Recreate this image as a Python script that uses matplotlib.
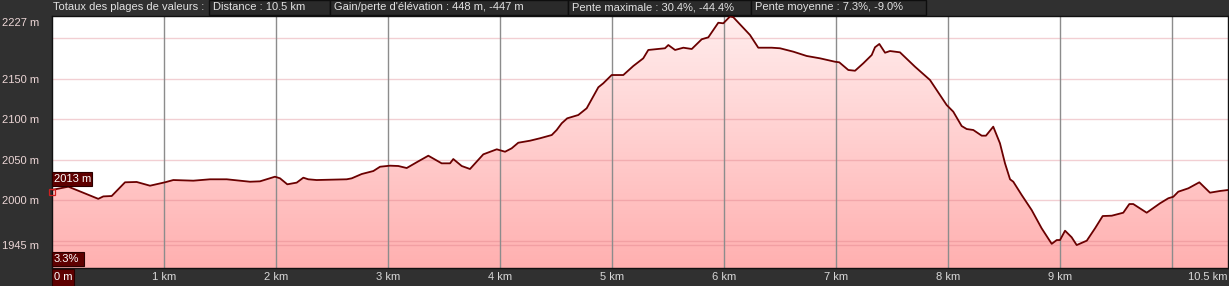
import matplotlib
matplotlib.use("Agg")
import matplotlib.pyplot as plt
import numpy as np
from matplotlib.patches import Rectangle, Polygon
from matplotlib.colors import LinearSegmentedColormap
import matplotlib.transforms as mtransforms

# ---------------- data ----------------
distance_km = [0.000, 0.146, 0.413, 0.458, 0.533, 0.652, 0.756, 0.875, 1.009, 1.083,
               1.262, 1.411, 1.560, 1.768, 1.857, 1.991, 2.036, 2.101, 2.185, 2.244,
               2.288, 2.363, 2.631, 2.676, 2.765, 2.869, 2.929, 3.018, 3.092, 3.167,
               3.256, 3.360, 3.479, 3.554, 3.583, 3.658, 3.732, 3.851, 3.971, 4.045,
               4.104, 4.163, 4.268, 4.357, 4.462, 4.506, 4.551, 4.600, 4.699, 4.774,
               4.878, 4.922, 4.997, 5.101, 5.190, 5.279, 5.324, 5.473, 5.503, 5.563,
               5.637, 5.712, 5.801, 5.860, 5.949, 5.994, 6.054, 6.083, 6.232, 6.306,
               6.426, 6.500, 6.619, 6.738, 6.857, 6.991, 7.029, 7.110, 7.170, 7.244,
               7.319, 7.348, 7.387, 7.438, 7.482, 7.571, 7.705, 7.839, 7.988, 8.047,
               8.122, 8.167, 8.226, 8.301, 8.339, 8.404, 8.464, 8.509, 8.554, 8.583,
               8.658, 8.747, 8.836, 8.926, 8.971, 9.000, 9.045, 9.104, 9.149, 9.239,
               9.313, 9.381, 9.462, 9.565, 9.619, 9.654, 9.774, 9.893, 9.967, 10.012,
               10.056, 10.146, 10.244, 10.339, 10.429, 10.500]
elevation_m = [2013, 2017, 2002, 2005, 2005.5, 2022.4, 2022.8, 2018.2, 2022.4, 2025.2,
               2024.4, 2026.1, 2026.1, 2023.1, 2023.6, 2029.3, 2027.3, 2019.9, 2022.0, 2028.1,
               2026.1, 2025.2, 2026.1, 2027.3, 2032.6, 2036.3, 2041.6, 2042.9, 2042.5, 2040.0,
               2047.1, 2055.2, 2045.8, 2045.8, 2051.1, 2042.5, 2038.8, 2056.9, 2063.1, 2060.1,
               2064.3, 2071.2, 2073.7, 2076.7, 2080.7, 2086.9, 2095.2, 2101.3, 2105.4, 2113.7,
               2139.6, 2144.5, 2154.7, 2154.7, 2165.8, 2175.3, 2185.6, 2187.7, 2191.7, 2185.6,
               2188.4, 2186.8, 2198.8, 2201.2, 2219.2, 2218.5, 2227.0, 2226.0, 2204.1, 2188.4,
               2188.4, 2187.7, 2183.5, 2178.2, 2175.3, 2171.1, 2170.4, 2160.9, 2160.0, 2169.2,
               2179.4, 2188.9, 2193.0, 2182.2, 2184.3, 2182.7, 2165.0, 2148.6, 2117.7, 2109.5,
               2091.8, 2088.1, 2086.9, 2079.9, 2079.9, 2091.0, 2070.5, 2045.8, 2026.1, 2023.1,
               2006.7, 1988.2, 1965.7, 1946.5, 1951.2, 1951.2, 1962.7, 1954.6, 1945.0, 1950.4,
               1965.7, 1980.8, 1981.2, 1984.9, 1995.6, 1995.6, 1984.9, 1996.5, 2002.7, 2004.6,
               2010.8, 2015.0, 2022.4, 2009.6, 2011.7, 2012.9]

y_tick_values = [2150, 2100, 2050, 2000, 1945]
y_grid_values = [2200, 2150, 2100, 2050, 2000, 1950, 1945]
x_tick_km = [1, 2, 3, 4, 5, 6, 7, 8, 9]
x_grid_km = [1, 2, 3, 4, 5, 6, 7, 8, 9, 10]
total_km = 10.5
max_elev = 2227
axis_floor = 1916.7
start_slope = "3.3%"

header_title = "Totaux des plages de valeurs :"
header_items = ["Distance : 10.5 km",
                "Gain/perte d'élévation : 448 m, -447 m",
                "Pente maximale : 30.4%, -44.4%",
                "Pente moyenne : 7.3%, -9.0%"]

# ---------------- style ----------------
W, H = 1229, 286
BG = "#303030"
FS = 8.0
plt.rcParams["font.family"] = ["Liberation Sans", "DejaVu Sans"]

fig = plt.figure(figsize=(W / 100, H / 100), dpi=100, facecolor=BG)

def fx(px):
    return px / W

def fy(py):
    return 1 - py / H

ax = fig.add_axes([fx(52), fy(268), fx(1228) - fx(52), fy(16) - fy(268)])
ax.set_facecolor("white")
ax.set_xlim(0, total_km)
ax.set_ylim(axis_floor, max_elev + 0.5)

x = np.array(distance_km)
y = np.array(elevation_m)

# gradient fill under the profile
cmap = LinearSegmentedColormap.from_list("pk", ["#ffb0b0", "#ffeded"])
grad = np.linspace(0, 1, 256).reshape(-1, 1)
im = ax.imshow(grad, cmap=cmap, origin="lower", aspect="auto",
               extent=[0, total_km, axis_floor, max_elev + 0.5], zorder=1,
               interpolation="bilinear")
verts = [(x[0], axis_floor)] + list(zip(x, y)) + [(x[-1], axis_floor)]
poly = Polygon(verts, closed=True, facecolor="none", edgecolor="none")
ax.add_patch(poly)
im.set_clip_path(poly)

# grid
for gv in y_grid_values:
    ax.axhline(gv, color=(0.86, 0.47, 0.51, 0.35), lw=1.0, zorder=2)
for gx in x_grid_km:
    ax.axvline(gx, color="#8c8c8c", lw=1.0, zorder=2)

# profile line
ax.plot(x, y, color="#6a0000", lw=1.3, zorder=4, solid_joinstyle="round")
ax.plot([x[0]], [y[0] - 2], marker="s", ms=5, mfc="none", mec="#d02020",
        mew=0.9, zorder=5, clip_on=False)

for s in ax.spines.values():
    s.set_color("#111111")
    s.set_linewidth(1.0)

ax.set_yticks(y_tick_values)
ax.set_yticklabels([f"{v} m" for v in y_tick_values])
ax.set_xticks(x_tick_km)
ax.set_xticklabels([f"{v} km" for v in x_tick_km])
ax.tick_params(axis="y", length=0, pad=9.5, labelsize=FS, labelcolor="#ecd6d6")
ax.tick_params(axis="x", length=0, pad=3, labelsize=FS, labelcolor="#d8d8d8")

trans = mtransforms.blended_transform_factory(fig.transFigure, ax.transData)
ax.text(fx(39), max_elev - 2, f"{max_elev} m", transform=trans, ha="right", va="top",
        fontsize=FS, color="#ecd6d6")
fig.text(fx(1227), fy(277), f"{total_km} km", ha="right", va="center",
         fontsize=FS, color="#d8d8d8")

# marker boxes
def label_box(x0, x1, y0, y1, txt):
    fig.patches.append(Rectangle((fx(x0), fy(y1)), fx(x1) - fx(x0), fy(y0) - fy(y1),
                                 transform=fig.transFigure, facecolor="#5e0000",
                                 edgecolor="#2a0000", lw=0.8, zorder=10))
    fig.text(fx(x0 + 2), fy((y0 + y1) / 2), txt, ha="left", va="center",
             fontsize=FS, color="white", zorder=11)

label_box(52, 92, 172, 186, f"{elevation_m[0]:.0f} m")
label_box(52, 84, 252, 266, start_slope)
label_box(52, 74, 269, 286, "0 m")

# header
fig.text(fx(53), fy(7.5), header_title, ha="left", va="center", fontsize=FS,
         color="#e2e2e2")
edges = [209, 330, 568, 751, 926]
for i, txt in enumerate(header_items):
    x0, x1 = edges[i], edges[i + 1]
    fig.patches.append(Rectangle((fx(x0), fy(15)), fx(x1) - fx(x0), fy(0) - fy(15),
                                 transform=fig.transFigure, facecolor="#2a2a2a",
                                 edgecolor="#0e0e0e", lw=1.0, zorder=1))
    fig.text(fx(x0 + 4), fy(7.5), txt, ha="left", va="center", fontsize=FS,
             color="#e2e2e2", zorder=2)

fig.savefig("out.png", dpi=100, facecolor=BG)
